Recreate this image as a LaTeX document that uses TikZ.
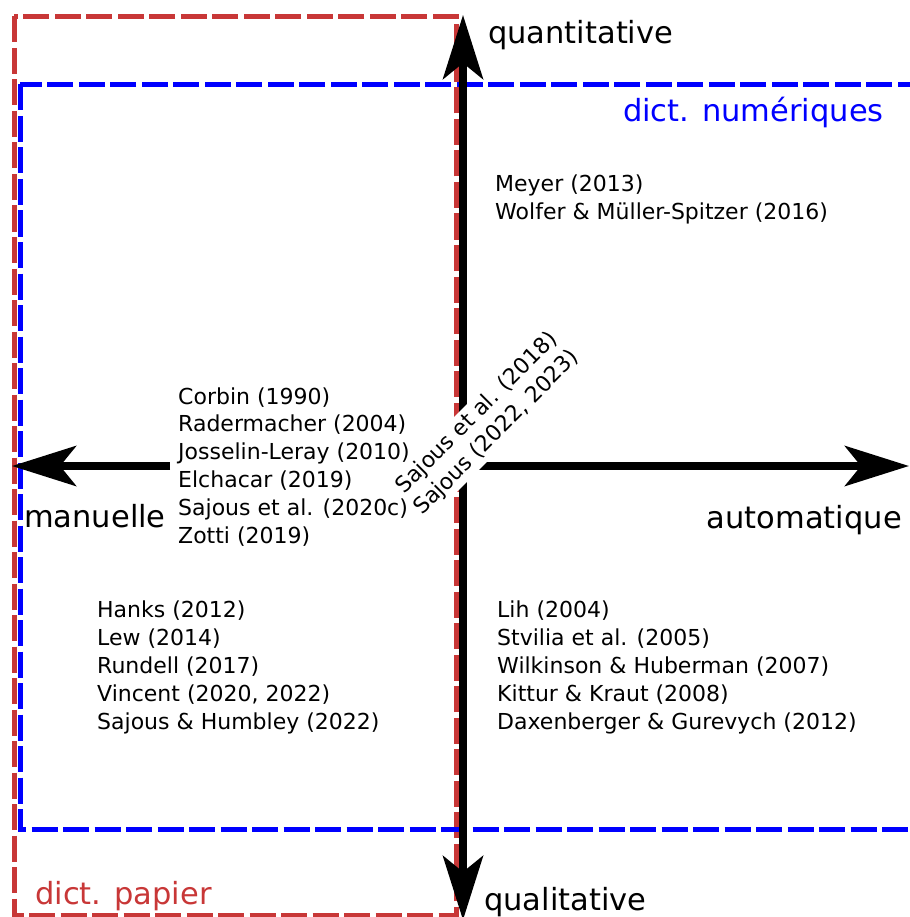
\documentclass[tikz,border=0pt]{standalone}
\usepackage{fontspec}
\setmainfont{DejaVu Sans}
\usetikzlibrary{arrows.meta}
\definecolor{paperred}{RGB}{200,55,55}
\definecolor{numblue}{RGB}{0,0,255}
\begin{document}
\begin{tikzpicture}[x=1pt,y=-1pt,
  zone/.style={line width=5pt, dash pattern=on 26pt off 5.5pt},
  axis/.style={line width=8pt, -{Stealth[length=64pt,width=40pt,inset=16pt]}},
  big/.style={font=\fontsize{30.5}{36}\selectfont, inner sep=0pt},
  refs/.style={font=\fontsize{22}{27.8}\selectfont, align=left, inner sep=0pt},
]
\useasboundingbox (0,0) rectangle (909,917);
% zones
\draw[zone, paperred] (14,16.5) rectangle (456,915);
\draw[zone, numblue] (20,84.5) rectangle (940,829);
% axes
\coordinate (O) at (463,466);
\coordinate (Lstart) at (170,466);
\coordinate (tipU) at (463,15);
\coordinate (tipD) at (463,920);
\coordinate (tipL) at (12,466);
\coordinate (tipR) at (909,466);
\draw[axis] (O) -- (tipU);
\draw[axis] (O) -- (tipD);
\draw[axis] (Lstart) -- (tipL);
\draw[axis] (O) -- (tipR);
% axis labels
\node[big, anchor=base west] (quant) at (488,44) {quantitative};
\node[big, anchor=base west] (qual) at (484,910) {qualitative};
\node[big, anchor=base west] (man) at (24,527) {manuelle};
\node[big, anchor=base east] (auto) at (902,528) {automatique};
\node[big, anchor=base east, text=numblue] (num) at (884,122) {dict. numériques};
\node[big, anchor=base west, text=paperred] (pap) at (35,904) {dict. papier};
% references (base anchor = baseline of last line)
\node[refs, anchor=base west] (qq) at (495,219) {Meyer (2013)\\Wolfer \& Müller-Spitzer (2016)};
\node[refs, anchor=base west] (mq) at (97,729) {Hanks (2012)\\Lew (2014)\\Rundell (2017)\\Vincent (2020, 2022)\\Sajous \& Humbley (2022)};
\node[refs, anchor=base west] (aq) at (497,729) {Lih (2004)\\Stvilia et al. (2005)\\Wilkinson \& Huberman (2007)\\Kittur \& Kraut (2008)\\Daxenberger \& Gurevych (2012)};
\node[refs, align=center, fill=white, inner sep=3pt, rotate=45] (diag) at (487,423) {Sajous et al. (2018)\\Sajous (2022, 2023)};
\node[refs, anchor=base west] (mid) at (178,543) {Corbin (1990)\\Radermacher (2004)\\Josselin-Leray (2010)\\Elchacar (2019)\\Sajous et al. (2020c)\\Zotti (2019)};
\end{tikzpicture}
\end{document}
